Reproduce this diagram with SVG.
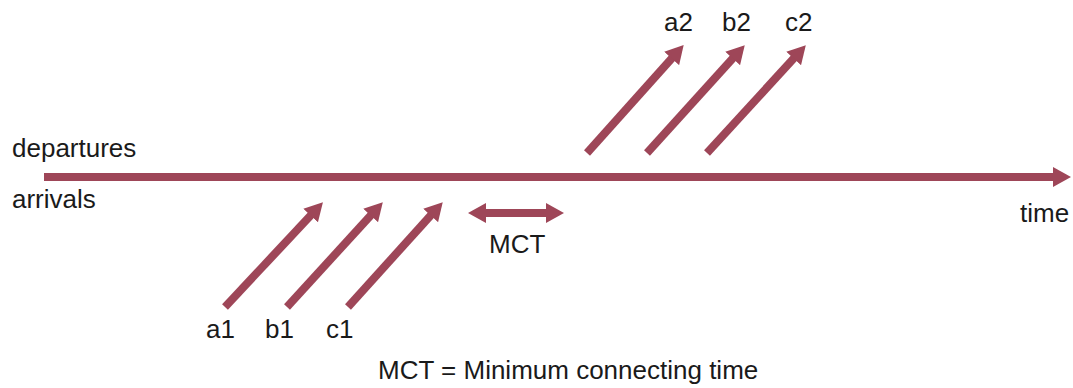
<svg xmlns="http://www.w3.org/2000/svg" width="1073" height="388" viewBox="0 0 1073 388">
<style>
.t{font-family:"Liberation Sans",Arial,sans-serif;font-size:26px;fill:#1a1a1a}
.c{stroke:#9e4658;stroke-width:8;fill:none}
</style>
<defs>
<marker id="ah" markerUnits="userSpaceOnUse" markerWidth="18" markerHeight="20" viewBox="0 0 18 20" refX="2" refY="10" orient="auto-start-reverse">
<path d="M0,0 L18,10 L0,20 z" fill="#9e4658"/>
</marker>
</defs>
<rect width="1073" height="388" fill="#fff"/>
<g id="connectors">
<line class="c" x1="44" y1="177" x2="1055" y2="177" marker-end="url(#ah)"/>
<line class="c" x1="225" y1="307" x2="312" y2="214" marker-end="url(#ah)"/>
<line class="c" x1="287" y1="307" x2="372" y2="214" marker-end="url(#ah)"/>
<line class="c" x1="348" y1="307" x2="432" y2="214" marker-end="url(#ah)"/>
<line class="c" x1="587" y1="153" x2="673" y2="57" marker-end="url(#ah)"/>
<line class="c" x1="647" y1="153" x2="734" y2="57" marker-end="url(#ah)"/>
<line class="c" x1="707" y1="153" x2="795" y2="57" marker-end="url(#ah)"/>
<line class="c" x1="484" y1="213" x2="548" y2="213" marker-start="url(#ah)" marker-end="url(#ah)"/>
</g>
<g id="labels">
<text class="t" x="12" y="157">departures</text>
<text class="t" x="12" y="208">arrivals</text>
<text class="t" x="1020" y="222">time</text>
<text class="t" x="489" y="253">MCT</text>
<text class="t" x="206" y="338">a1</text>
<text class="t" x="265" y="338">b1</text>
<text class="t" x="326" y="338">c1</text>
<text class="t" x="664" y="31">a2</text>
<text class="t" x="722" y="31">b2</text>
<text class="t" x="785" y="31">c2</text>
<text class="t" x="378" y="379">MCT = Minimum connecting time</text>
</g>
</svg>
